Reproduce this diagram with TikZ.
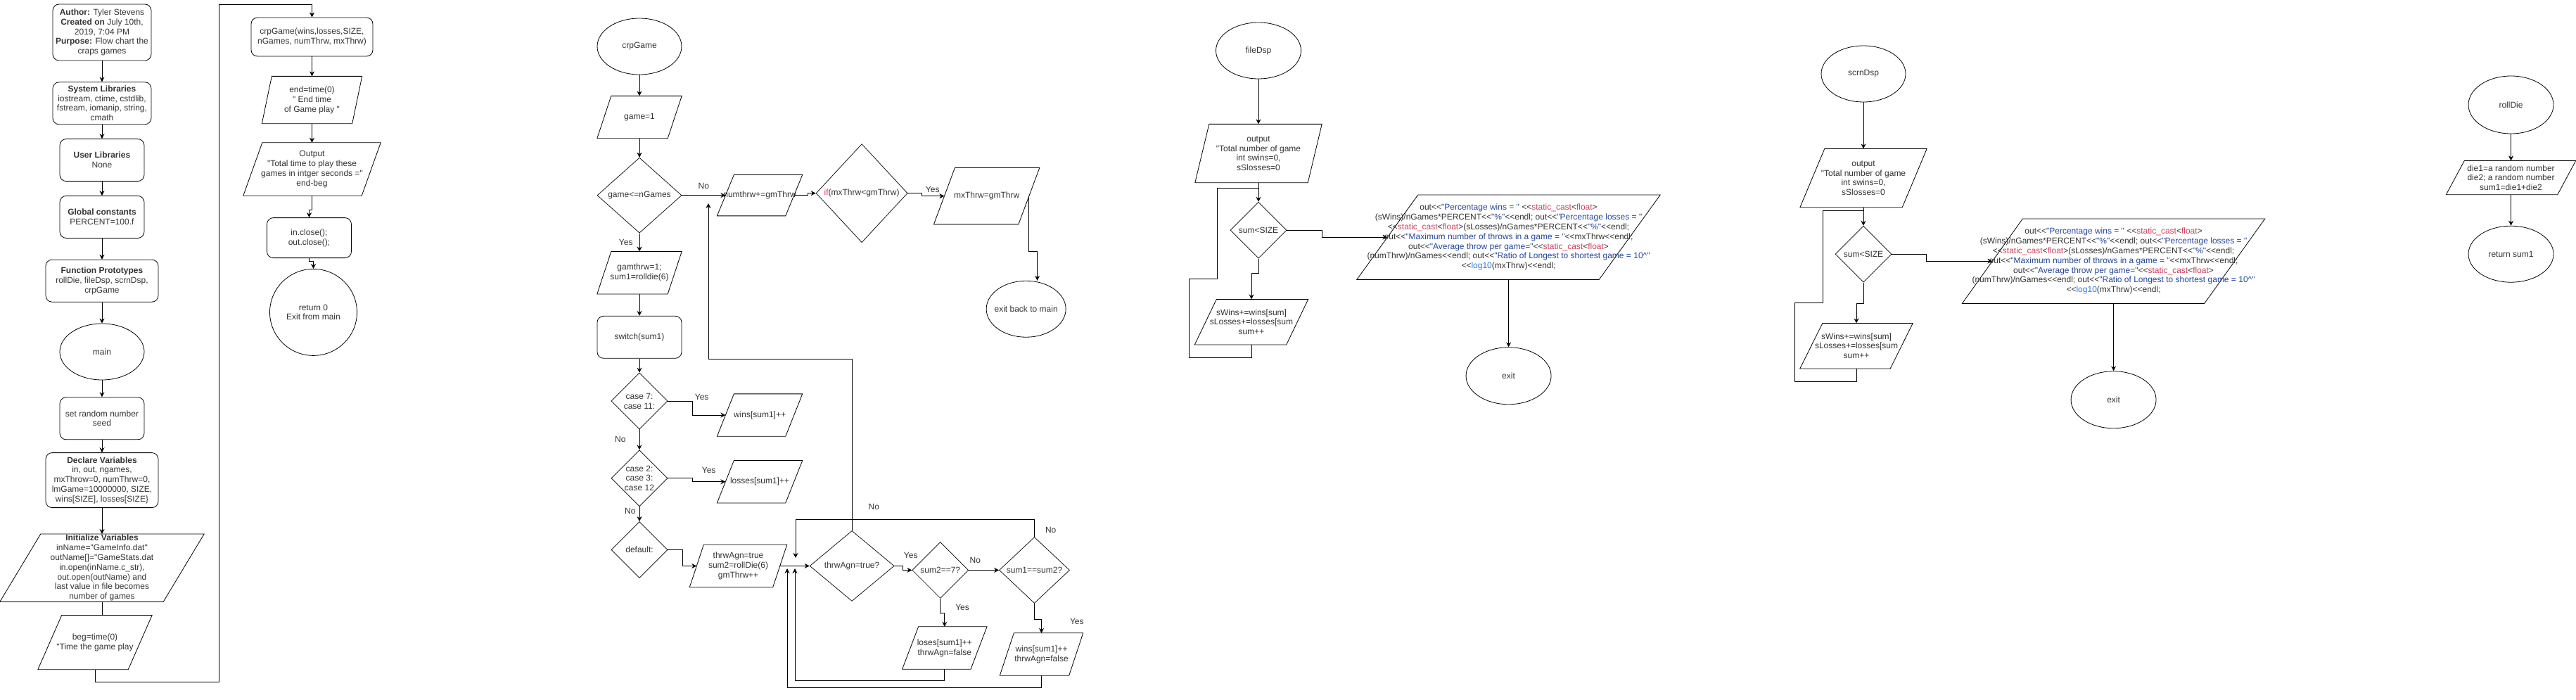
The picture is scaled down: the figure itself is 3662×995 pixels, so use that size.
\documentclass[tikz,border=0pt]{standalone}
\usepackage{fontspec}
\setmainfont{Liberation Sans}[Ligatures=TeXOff]
\usepackage{tikz}
\usetikzlibrary{positioning, shapes.geometric, calc, arrows.meta}
\definecolor{kwred}{HTML}{D23F5F}
\definecolor{strblue}{HTML}{24479B}
\definecolor{fnblue}{HTML}{2C7BD6}
\newcommand{\kw}[1]{\textcolor{kwred}{#1}}
\newcommand{\cstr}[1]{\textcolor{strblue}{#1}}
\newcommand{\cfun}[1]{\textcolor{fnblue}{#1}}
\newcommand{\squeeze}[1]{\makebox[0pt]{#1}}
\tikzset{
  flow/.style={-{Stealth[length=7pt, width=7pt]}, draw=black, line width=1pt},
  plain/.style={draw=black, line width=1pt},
  proc/.style={draw, rounded corners=9pt, align=center, line width=0.8pt},
  term/.style={draw, ellipse, align=center, inner sep=0pt, line width=0.8pt},
  decide/.style={draw, diamond, align=center, inner sep=0pt, line width=0.7pt},
  io/.style={align=center, append after command={\pgfextra{\draw[line width=0.8pt]
      ([xshift=#1/2]\tikzlastnode.north west) -- ([xshift=#1/2]\tikzlastnode.north east)
      -- ([xshift=-#1/2]\tikzlastnode.south east) -- ([xshift=-#1/2]\tikzlastnode.south west) -- cycle;}}},
  dims/.style 2 args={minimum width=#1, minimum height=#2},
  lbl/.style={inner sep=1pt},
  every node/.style={inner sep=1pt, font=\fontsize{12}{13.8}\selectfont, text=black!80}
}
\begin{document}
\begin{tikzpicture}[x=1pt, y=-1pt]
    \useasboundingbox (0,0) rectangle (3662,995);
    \fill[white] (0,0) rectangle (3662,995);
    % main
    \node[proc, dims={140pt}{80pt}] (author) at (145,46) {\textbf{Author:} Tyler Stevens\\\textbf{Created on} July 10th,\\2019, 7:04 PM\\\textbf{Purpose:} Flow chart the\\craps games};
    \node[proc, dims={140pt}{60pt}, below=30pt of author] (syslib) {\textbf{System Libraries}\\iostream, ctime, cstdlib,\\fstream, iomanip, string,\\cmath};
    \draw[flow] (author) -- (syslib);
    \node[proc, dims={120pt}{60pt}, below=20pt of syslib] (userlib) {\textbf{User Libraries}\\None};
    \draw[flow] (syslib) -- (userlib);
    \node[proc, dims={120pt}{60pt}, below=20pt of userlib] (global) {\textbf{Global constants}\\PERCENT=100.f};
    \draw[flow] (userlib) -- (global);
    \node[proc, dims={160pt}{60pt}, below=30pt of global] (proto) {\textbf{Function Prototypes}\\rollDie, fileDsp, scrnDsp,\\crpGame};
    \draw[flow] (global) -- (proto);
    \node[term, dims={120pt}{80pt}, below=30pt of proto] (main) {main};
    \draw[flow] (proto) -- (main);
    \node[proc, dims={120pt}{60pt}, below=24pt of main] (seed) {set random number\\seed};
    \draw[flow] (main) -- (seed);
    \node[proc, dims={160pt}{78pt}, below=18pt of seed] (declare) {\textbf{Declare Variables}\\in, out, ngames,\\mxThrow=0, numThrw=0,\\lmGame=10000000, SIZE,\\wins[SIZE], losses[SIZE\}};
    \draw[flow] (seed) -- (declare);
    \node[io=58pt, dims={232pt}{96pt}, below=37pt of declare] (init) {\textbf{Initialize Variables}\\inName="GameInfo.dat"\\outName[]="GameStats.dat\\in.open(inName.c\_str),\\out.open(outName) and\\last value in file becomes\\number of games};
    \draw[flow] (declare) -- (init);
    \node[io=34pt, dims={128pt}{77pt}, below=19pt of init, xshift=-10pt] (beg) {beg=time(0)\\"Time the game play};
    \draw[plain] (init.south) -- (init.south |- beg.north);
    \node[proc, dims={173pt}{55pt}] (crpcall) at (443.5,52.5) {crpGame(wins,losses,SIZE,\\nGames, numThrw, mxThrw)};
    \draw[flow] (beg.south) -- ++(0,18) -| (311,7) -| (crpcall.north);
    \node[io=14pt, dims={128pt}{67pt}, below=28pt of crpcall] (endt) {end=time(0)\\" End time\\of Game play "};
    \draw[flow] (crpcall) -- (endt);
    \node[io=27pt, dims={168pt}{75pt}, below=27pt of endt] (outtime) {Output\\"Total time to play these\\games in intger seconds ="\\end-beg};
    \draw[flow] (endt) -- (outtime);
    \node[proc, dims={120pt}{57pt}, below=31pt of outtime, xshift=-4pt] (close) {in.close();\\out.close();};
    \draw[flow] (outtime.south) -- ++(0,20) -| (close.north);
    \node[term, dims={124pt}{123pt}, below=15pt of close, xshift=6pt] (ret0) {return 0\\Exit from main};
    \draw[flow] (close.south) -- ++(0,4) -| (ret0.north);
    % crpGame
    \node[term, dims={120pt}{80pt}] (crpgame) at (909,66) {crpGame};
    \node[io=20pt, dims={100pt}{60pt}, below=30pt of crpgame] (game1) {game=1};
    \draw[flow] (crpgame) -- (game1);
    \node[decide, dims={120pt}{107pt}, below=27pt of game1] (gamecond) {game<=nGames};
    \draw[flow] (game1) -- (gamecond);
    \node[io=20pt, dims={100pt}{60pt}, below=26pt of gamecond] (gamthrw) {gamthrw=1;\\sum1=rolldie(6)};
    \draw[flow] (gamecond) -- node[lbl, left=8pt] {Yes} (gamthrw);
    \node[proc, dims={120pt}{60pt}, below=31pt of gamthrw] (switchbox) {switch(sum1)};
    \draw[flow] (gamthrw) -- (switchbox);
    \node[decide, dims={80pt}{80pt}, below=20pt of switchbox] (case7) {case 7:\\case 11:};
    \draw[flow] (switchbox) -- (case7);
    \node[decide, dims={80pt}{80pt}, below=29pt of case7] (case2) {\squeeze{case 2:}\\\squeeze{case 3:}\\\squeeze{case 12}};
    \draw[flow] (case7) -- node[lbl, left=18pt] {No} (case2);
    \node[decide, dims={80pt}{80pt}, below=21pt of case2] (dflt) {default:};
    \draw[flow] (case2) -- node[lbl, pos=0.3, left=4pt] {No} (dflt);
    \node[io=24pt, dims={97pt}{60pt}, right=82pt of case7, yshift=-20pt] (wins) {wins[sum1]++};
    \draw[flow] (case7.east) -- ++(35,0) node[lbl, above right=0pt and 2pt] {Yes} |- (wins.west);
    \node[io=24pt, dims={97pt}{60pt}, right=82pt of case2, yshift=-5pt] (losses) {losses[sum1]++};
    \draw[flow] (case2.east) -- ++(35,0) node[lbl, above right=6pt and 12pt] {Yes} |- (losses.west);
    \node[io=20pt, dims={118pt}{60pt}, right=41pt of dflt, yshift=-23pt] (thrwpara) {thrwAgn=true\\sum2=rollDie(6)\\gmThrw++};
    \draw[flow] (dflt.east) -- ++(21,0) |- (thrwpara.west);
    \node[decide, dims={120pt}{100pt}, right=42pt of thrwpara] (thrwcond) {thrwAgn=true?};
    \draw[flow] (thrwpara) -- (thrwcond);
    \node[decide, dims={80pt}{80pt}, right=25pt of thrwcond, yshift=-6pt] (sum2) {sum2==7?};
    \draw[flow] (thrwcond.east) -- ++(12,0) node[lbl, above right=9pt and 0pt] {Yes} |- (sum2.west);
    \node[decide, dims={100pt}{94pt}, right=43pt of sum2] (sum1eq) {sum1==sum2?};
    \draw[flow] (sum2.east) node[lbl, above right=8pt and 0pt] {No} -- (sum1eq.west);
    \node[io=23pt, dims={97pt}{60pt}, below=40pt of sum2, xshift=6pt] (loses) {loses[sum1]++\\thrwAgn=false};
    \draw[flow] (sum2.south) node[lbl, below right=7pt and 20pt] {Yes} -- ++(0,21) -| (loses.north);
    \node[io=20pt, dims={98pt}{60pt}, below=42pt of sum1eq, xshift=10pt] (wins2) {wins[sum1]++\\thrwAgn=false};
    \draw[flow] (sum1eq.south) node[lbl, below right=20pt and 49pt] {Yes} -- ++(0,23) -| (wins2.north);
    \coordinate (lback1) at (1119,808);
    \coordinate (lback2) at (1130,808);
    \coordinate (nback) at (1131,793);
    \draw[flow] (loses.south) |- (1130,967) -- (lback2);
    \draw[flow] (wins2.south) |- (1119,977) -- (lback1);
    \draw[flow] (sum1eq.north) node[lbl, above right=4pt and 14pt] {No} |- (1131,738) -- (nback);
    \node[io=24pt, dims={97pt}{58pt}, right=62pt of gamecond] (numthrw) {\squeeze{numthrw+=gmThrw}};
    \draw[flow] (gamecond) -- node[lbl, above=8pt] {No} (numthrw);
    \coordinate (gback) at (1007,289);
    \draw[flow] (thrwcond.north) node[lbl, above right=28pt and 22pt] {No} |- (1007,510) -- (gback);
    \node[decide, dims={130pt}{140pt}, right=31pt of numthrw, yshift=3pt] (ifcond) {\kw{if}(mxThrw<gmThrw)};
    \draw[flow] (numthrw.east) -- ++(20,0) |- (ifcond.west);
    \node[io=30pt, dims={120pt}{80pt}, right=52pt of ifcond, yshift=-4pt] (mxpara) {mxThrw=gmThrw};
    \draw[flow] (ifcond.east) -- ++(20,0) node[lbl, above right=0pt and 4pt] {Yes} |- (mxpara.west);
    \node[term, dims={113pt}{80pt}, below=80pt of mxpara, xshift=56pt] (exitmain) {\squeeze{exit back to main}};
    \draw[flow] (mxpara.east) -- ++(0,79) -| ([xshift=16pt]exitmain.north);
    % fileDsp
    \node[term, dims={121pt}{80pt}] (fdsp) at (1789,72) {fileDsp};
    \node[io=20pt, dims={160pt}{83pt}, below=64pt of fdsp] (fout) {output\\"Total number of game\\int swins=0,\\sSlosses=0};
    \draw[flow] (fdsp) -- (fout);
    \node[decide, dims={80pt}{80pt}, below=27pt of fout] (fcond) {sum<SIZE};
    \draw[flow] (fout) -- (fcond);
    \coordinate[below=8pt of fout] (fjoin);
    \node[io=31pt, dims={130pt}{64pt}, below=58pt of fcond, xshift=-10pt] (fsum) {sWins+=wins[sum]\\sLosses+=losses[sum\\sum++};
    \draw[flow] (fcond.south) -- ++(0,21) -| (fsum.north);
    \draw[plain] (fsum.south) |- (1690,508) |- (1730,396) |- (fjoin);
    \node[io=87pt, dims={344pt}{120pt}, right=143pt of fcond, yshift=-10pt] (fbig) {\squeeze{out<<\cstr{"Percentage wins = "} <<\kw{static\_cast}<\kw{float}>}\\\squeeze{(sWins)/nGames*PERCENT<<\cstr{"\%"}<<endl; out<<\cstr{"Percentage losses = "}}\\\squeeze{<<\kw{static\_cast}<\kw{float}>(sLosses)/nGames*PERCENT<<\cstr{"\%"}<<endl;}\\\squeeze{out<<\cstr{"Maximum number of throws in a game = "}<<mxThrw<<endl;}\\\squeeze{out<<\cstr{"Average throw per game="}<<\kw{static\_cast}<\kw{float}>}\\\squeeze{(numThrw)/nGames<<endl; out<<\cstr{"Ratio of Longest to shortest game = 10\textasciicircum"}}\\\squeeze{<<\cfun{log10}(mxThrw)<<endl;}};
    \draw[flow] (fcond.east) -- ++(50,0) |- (fbig.west);
    \node[term, dims={121pt}{81pt}, below=96pt of fbig] (fexit) {exit};
    \draw[flow] (fbig) -- (fexit);
    % scrnDsp
    \node[term, dims={120pt}{80pt}] (sdsp) at (2649,105) {scrnDsp};
    \node[io=35pt, dims={145pt}{83pt}, below=66pt of sdsp] (sout) {output\\"Total number of game\\int swins=0,\\sSlosses=0};
    \draw[flow] (sdsp) -- (sout);
    \node[decide, dims={80pt}{80pt}, below=26pt of sout] (scond) {sum<SIZE};
    \draw[flow] (sout) -- (scond);
    \coordinate[below=5pt of sout] (sjoin);
    \node[io=32pt, dims={128pt}{64pt}, below=58pt of scond, xshift=-10pt] (ssum) {sWins+=wins[sum]\\sLosses+=losses[sum\\sum++};
    \draw[flow] (scond.south) -- ++(0,30) -| (ssum.north);
    \draw[plain] (ssum.south) |- (2551,542) |- (2591,430) |- (sjoin);
    \node[io=86pt, dims={344pt}{120pt}, right=143pt of scond, yshift=-10pt] (sbig) {\squeeze{out<<\cstr{"Percentage wins = "} <<\kw{static\_cast}<\kw{float}>}\\\squeeze{(sWins)/nGames*PERCENT<<\cstr{"\%"}<<endl; out<<\cstr{"Percentage losses = "}}\\\squeeze{<<\kw{static\_cast}<\kw{float}>(sLosses)/nGames*PERCENT<<\cstr{"\%"}<<endl;}\\\squeeze{out<<\cstr{"Maximum number of throws in a game = "}<<mxThrw<<endl;}\\\squeeze{out<<\cstr{"Average throw per game="}<<\kw{static\_cast}<\kw{float}>}\\\squeeze{(numThrw)/nGames<<endl; out<<\cstr{"Ratio of Longest to shortest game = 10\textasciicircum"}}\\\squeeze{<<\cfun{log10}(mxThrw)<<endl;}};
    \draw[flow] (scond.east) -- ++(49,0) |- (sbig.west);
    \node[term, dims={121pt}{81pt}, below=96pt of sbig] (sexit) {exit};
    \draw[flow] (sbig) -- (sexit);
    % rollDie
    \node[term, dims={121pt}{82pt}] (rdie) at (3569.5,149) {rollDie};
    \node[io=26pt, dims={158pt}{48pt}, below=38pt of rdie] (rpara) {die1=a random number\\die2; a random number\\sum1=die1+die2};
    \draw[flow] (rdie) -- (rpara);
    \node[term, dims={121pt}{80pt}, below=44pt of rpara] (rret) {return sum1};
    \draw[flow] (rpara) -- (rret);
\end{tikzpicture}
\end{document}
